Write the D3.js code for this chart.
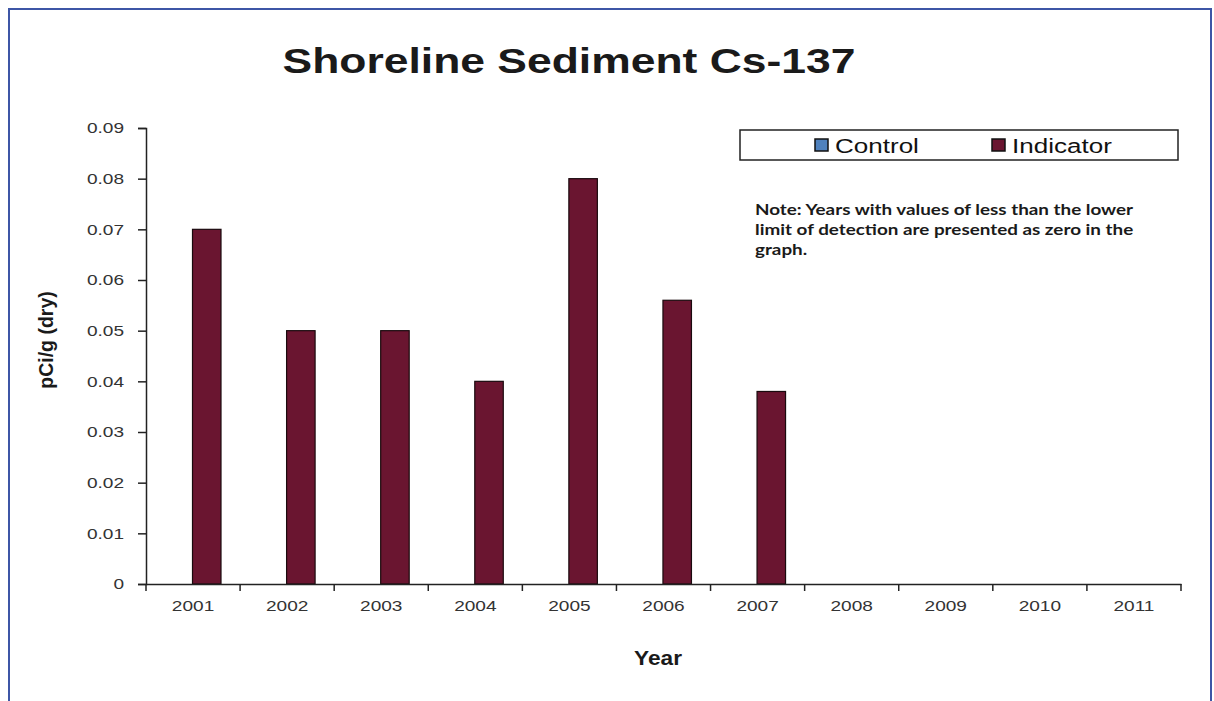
<!DOCTYPE html>
<html><head><meta charset="utf-8">
<script src="https://cdn.jsdelivr.net/npm/d3@7"></script>
<style>html,body{margin:0;padding:0;background:#fff;}</style>
</head><body>
<svg id="chart" width="1214" height="701"></svg>
<script>
const years = ["2001","2002","2003","2004","2005","2006","2007","2008","2009","2010","2011"];
const seriesNames = ["Control","Indicator"];
const controlValues = [0,0,0,0,0,0,0,0,0,0,0];
const indicatorValues = [0.07,0.05,0.05,0.04,0.08,0.056,0.038,0,0,0,0];
const yTicks = [0,0.01,0.02,0.03,0.04,0.05,0.06,0.07,0.08,0.09];
const colors = {Control:"#4f81bd", Indicator:"#6a1530"};
const SX = 1.23; // horizontal stretch of the original picture's lettering
const FONT = "Liberation Sans, Arial, sans-serif";

const svg = d3.select("#chart");
svg.append("rect").attr("x",9).attr("y",9).attr("width",1202).attr("height",710)
  .attr("fill","none").attr("stroke","#3d56a6").attr("stroke-width",2);

const x0 = d3.scaleBand().domain(years).range([146,1181]).paddingInner(0).paddingOuter(0);
const x1 = d3.scaleBand().domain(seriesNames).range([18,75]).padding(0);
const y = d3.scaleLinear().domain([0,0.09]).range([584,128]);

function stext(parent, x, yy, str, opts){
  const t = parent.append("text")
    .attr("transform",`translate(${x},${yy}) scale(${opts.sx||SX},1)`)
    .attr("text-anchor",opts.anchor||"start")
    .attr("font-family",opts.family||FONT)
    .attr("font-weight",opts.weight||"normal")
    .attr("font-size",opts.size)
    .attr("fill",opts.fill||"#222")
    .text(str);
  if (opts.ls) t.attr("letter-spacing",opts.ls);
  return t;
}

// bars
const data = years.map((yr,i)=>({year:yr, values:[{s:"Control",v:controlValues[i]},{s:"Indicator",v:indicatorValues[i]}]}));
svg.append("g").selectAll("g.grp").data(data).join("g").attr("class","grp")
  .attr("transform",d=>`translate(${x0(d.year)},0)`)
  .selectAll("rect").data(d=>d.values.filter(e=>e.v>0)).join("rect")
  .attr("x",d=>x1(d.s)).attr("width",x1.bandwidth())
  .attr("y",d=>y(d.v)).attr("height",d=>y(0)-y(d.v))
  .attr("fill",d=>colors[d.s]).attr("stroke","#1a0a0e").attr("stroke-width",1.2);

// y axis
const yAxis = d3.axisLeft(y).tickValues(yTicks).tickFormat(d=>d===0?"0":d3.format(".2f")(d)).tickSize(8).tickPadding(14);
const ya = svg.append("g").attr("transform","translate(146,0)").call(yAxis);
ya.select(".domain").attr("stroke","#222").attr("stroke-width",1.5);
ya.selectAll(".tick line").attr("stroke","#222").attr("stroke-width",1.5);
ya.selectAll(".tick text").each(function(){
  const t = d3.select(this);
  const xx = +t.attr("x");
  t.attr("x",0).attr("transform",`translate(${xx},0) scale(${SX},1)`)
   .attr("font-family",FONT).attr("font-size",15.5).attr("fill","#333");
});

// x axis
const xa = svg.append("g").attr("transform","translate(0,584)")
  .call(d3.axisBottom(x0).tickSize(0).tickPadding(16));
xa.select(".domain").attr("stroke","#222").attr("stroke-width",1.5);
xa.selectAll(".tick text").attr("transform",`scale(${SX},1)`)
  .attr("font-family",FONT).attr("font-size",15.5).attr("fill","#333");
const bounds = years.map(yr=>x0(yr)).concat([x0.range()[1]]);
svg.append("g").selectAll("line").data(bounds).join("line")
  .attr("x1",d=>d).attr("x2",d=>d).attr("y1",584).attr("y2",591)
  .attr("stroke","#222").attr("stroke-width",1.5);

// title
stext(svg, 569, 73, "Shoreline Sediment Cs-137", {size:36, weight:"bold", anchor:"middle", fill:"#1a1a1a", sx:1.235});

// axis titles
svg.append("text").attr("transform","translate(53,340) rotate(-90)").attr("text-anchor","middle")
  .attr("font-family","Liberation Sans Narrow, Liberation Sans, Arial, sans-serif").attr("font-weight","bold")
  .attr("font-size",19.5).attr("fill","#1a1a1a").text("pCi/g (dry)");
stext(svg, 658, 665, "Year", {size:21, weight:"bold", anchor:"middle", fill:"#1a1a1a", sx:1.08});

// legend
svg.append("rect").attr("x",740).attr("y",130).attr("width",438).attr("height",30)
  .attr("fill","#fff").attr("stroke","#222").attr("stroke-width",1.5);
const legPos = [{s:"Control",x:815},{s:"Indicator",x:992}];
legPos.forEach(d=>{
  svg.append("rect").attr("x",d.x).attr("y",139).attr("width",13).attr("height",12)
    .attr("fill",colors[d.s]).attr("stroke","#111").attr("stroke-width",1.5);
  stext(svg, d.x+20, 153, d.s, {size:21, fill:"#111", sx:1.24});
});

// note
const noteLines = ["Note: Years with values of less than the lower","limit of detection are presented as zero in the","graph."];
noteLines.forEach((l,i)=>{
  stext(svg, 755, 215+i*20, l, {size:14.5, weight:"bold", family:"Lato, Open Sans, sans-serif", fill:"#1a1a1a", sx:1.3});
});
</script>
</body></html>
